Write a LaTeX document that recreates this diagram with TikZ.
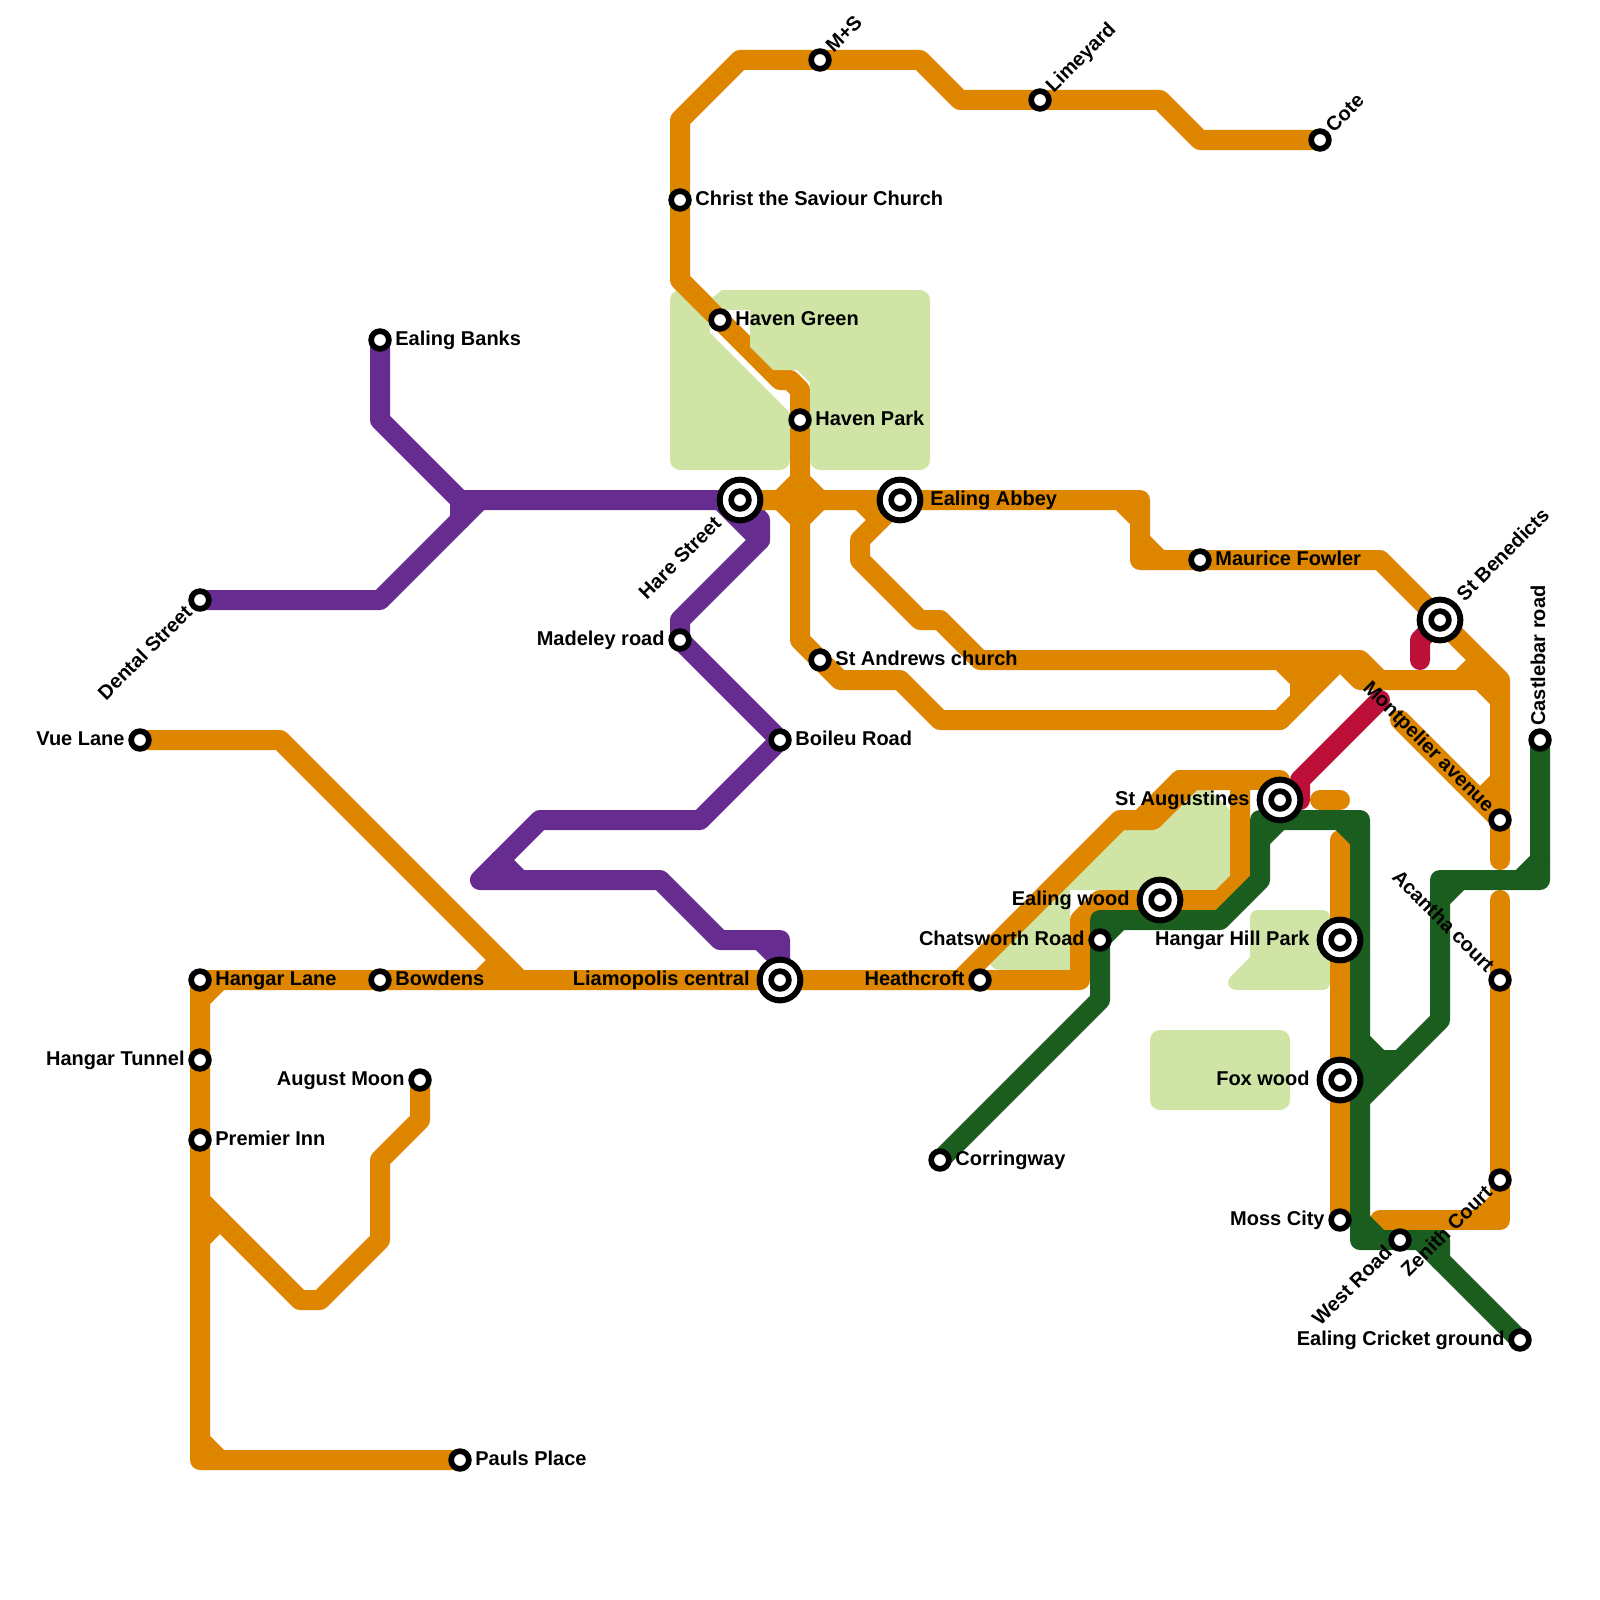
\documentclass[tikz,border=0pt]{standalone}
\usepackage{fontspec}
\setmainfont{Liberation Sans}
\definecolor{lorange}{HTML}{DF8600}
\definecolor{lgreen}{HTML}{1A5D1E}
\definecolor{lpurple}{HTML}{662C90}
\definecolor{lred}{HTML}{BD1038}
\definecolor{lpark}{HTML}{D0E5A5}
\tikzset{
  base line/.style={line width=10pt,line cap=round,line join=round},
  oline/.style={base line,draw=lorange},
  gline/.style={base line,draw=lgreen},
  pline/.style={base line,draw=lpurple},
  rline/.style={base line,draw=lred},
  park/.style={fill=lpark},
  stn/.style={circle,draw=black,fill=white,line width=2.85pt,inner sep=0pt,outer sep=0pt,minimum size=8.85pt},
  ring/.style={circle,draw=black,fill=white,line width=3pt,inner sep=0pt,outer sep=0pt,minimum size=20.35pt},
  lbl/.style={inner sep=0pt,text height=5pt,text depth=0pt,font=\fontsize{10pt}{12pt}\selectfont\bfseries,text=black},
  lr/.style={lbl,xshift=7.5pt,anchor=west},
  ll/.style={lbl,xshift=-7.5pt,anchor=east},
  ir/.style={lbl,xshift=15pt,anchor=west},
  il/.style={lbl,xshift=-15pt,anchor=east},
  ur/.style={lbl,xshift=5pt,yshift=5pt,rotate=45,anchor=west},
  iur/.style={lbl,xshift=10.5pt,yshift=10.5pt,rotate=45,anchor=west},
  dl/.style={lbl,xshift=-5pt,yshift=-5pt,rotate=45,anchor=east},
  idl/.style={lbl,xshift=-10.5pt,yshift=-10.5pt,rotate=45,anchor=east},
  ul/.style={lbl,xshift=-5pt,yshift=5pt,rotate=-45,anchor=east},
  upl/.style={lbl,yshift=7pt,rotate=90,anchor=west}
}
\begin{document}
\begin{tikzpicture}[x=0.5pt,y=-0.5pt]
\useasboundingbox (0,0) rectangle (1600,1600);
% station positions
\coordinate (EB) at (380,340);
\coordinate (DS) at (200,600);
\coordinate (VL) at (140,740);
\coordinate (HL) at (200,980);
\coordinate (BW) at (380,980);
\coordinate (HT) at (200,1060);
\coordinate (PI) at (200,1140);
\coordinate (AM) at (420,1080);
\coordinate (PP) at (460,1460);
\coordinate (MR) at (680,640);
\coordinate (BR) at (780,740);
\coordinate (HS) at (740,500);
\coordinate (CS) at (680,200);
\coordinate (HG) at (720,320);
\coordinate (HP) at (800,420);
\coordinate (MS) at (820,60);
\coordinate (LY) at (1040,100);
\coordinate (CT) at (1320,140);
\coordinate (EA) at (900,500);
\coordinate (SA) at (820,660);
\coordinate (MF) at (1200,560);
\coordinate (SB) at (1440,620);
\coordinate (CR) at (1540,740);
\coordinate (MA) at (1500,820);
\coordinate (AC) at (1500,980);
\coordinate (ZC) at (1500,1180);
\coordinate (CG) at (1520,1340);
\coordinate (WR) at (1400,1240);
\coordinate (MC) at (1340,1220);
\coordinate (FW) at (1340,1080);
\coordinate (HH) at (1340,940);
\coordinate (AU) at (1280,800);
\coordinate (EW) at (1160,900);
\coordinate (CH) at (1100,940);
\coordinate (HC) at (980,980);
\coordinate (CW) at (940,1160);
\coordinate (LC) at (780,980);
% parks below the lines
\fill[park,rounded corners=5pt] (670,470) -- (670,290) -- (690,290) [sharp corners] -- (710,320) -- (710,333) -- (790,413) [rounded corners=5pt] -- (790,470) -- cycle;
\fill[park] (1113,830) -- (992,951) .. controls (985,958) and (990,970) .. (1000,970) -- (1070,970) -- (1070,890) -- (1222,890) .. controls (1227,890) and (1230,887) .. (1230,882) -- (1230,810) -- (1210,790) -- (1197,790) -- (1157,830) -- cycle;
\fill[park] (1258,910) -- (1322,910) .. controls (1327,910) and (1330,913) .. (1330,918) -- (1330,982) .. controls (1330,987) and (1327,990) .. (1322,990) -- (1238,990) .. controls (1228,990) and (1225,982) .. (1232,975) -- (1250,957) -- (1250,918) .. controls (1250,913) and (1253,910) .. (1258,910) -- cycle;
\fill[park,rounded corners=5pt] (1150,1030) rectangle (1290,1110);
% purple
\draw[pline] (EB) -- (380,420) -- (460,500) -- (HS) -- (760,520) -- (760,540) -- (680,620) -- (MR) -- (BR) -- (700,820) -- (540,820) -- (480,880) -- (660,880) -- (720,940) -- (780,940) -- (LC);
\draw[pline] (DS) -- (380,600) -- (480,500);
\draw[pline] (460,500) -- (460,520);
\draw[pline] (720,500) -- (760,540);
\draw[pline] (500,860) -- (520,880);
\draw[pline] (760,940) -- (780,960);
% orange
\draw[oline] (VL) -- (280,740) -- (520,980);
\draw[oline] (500,960) -- (480,980);
\draw[oline] (PP) -- (200,1460) -- (HL) -- (BW) -- (LC) -- (HC) -- (1080,980) -- (1080,920) -- (1100,900) -- (EW) -- (1220,900) -- (1240,880) -- (1240,780) -- (1180,780) -- (1140,820) -- (1120,820) -- (960,980);
\draw[oline] (1140,820) -- (1153,820) -- (1193,780) -- (1180,780);
\draw[oline] (1240,780) -- (1280,780) -- (AU);
\draw[oline] (200,1000) -- (220,980);
\draw[oline] (200,1440) -- (220,1460);
\draw[oline] (200,1200) -- (300,1300) -- (320,1300) -- (380,1240) -- (380,1160) -- (420,1120) -- (AM);
\draw[oline] (200,1240) -- (220,1220);
\draw[oline] (CT) -- (1200,140) -- (1160,100) -- (LY) -- (960,100) -- (920,60) -- (MS) -- (740,60) -- (680,120) -- (CS) -- (680,280) -- (HG) -- (780,380) -- (790,380) -- (800,390) -- (HP) -- (800,640) -- (SA) -- (840,680) -- (900,680) -- (940,720) -- (1280,720) -- (1340,660);
\draw[oline] (HS) -- (EA) -- (1140,500) -- (1140,560) -- (MF) -- (1380,560) -- (SB) -- (1500,680) -- (MA) -- (1500,860);
\draw[oline,fill=lorange] (800,480) -- (820,500) -- (800,520) -- (780,500) -- cycle;
\draw[oline] (860,500) -- (880,520);
\draw[oline] (EA) -- (860,540) -- (860,560) -- (920,620) -- (940,620) -- (980,660) -- (1360,660) -- (1380,680);
\draw[oline] (1120,500) -- (1140,520);
\draw[oline] (1140,540) -- (1160,560);
\draw[oline] (1280,660) -- (1300,680) -- (1300,700) -- (1280,720);
\draw[oline] (1300,680) -- (1320,670);
\draw[oline] (1340,660) -- (1360,680) -- (1480,680) -- (1500,700);
\draw[oline] (1460,680) -- (1480,660);
\draw[oline] (1400,720) -- (MA);
\draw[oline] (1480,800) -- (1500,780);
\draw[oline] (1320,800) -- (1340,800);
\draw[oline] (1340,840) -- (MC);
\draw[oline] (1380,1220) -- (1500,1220) -- (AC) -- (1500,900);
\draw[oline] (1480,1220) -- (1500,1200);
% park drawn over the orange line at Haven
\fill[park,rounded corners=5pt] (712,298) [sharp corners] -- (722,290) [rounded corners=5pt] -- (930,290) -- (930,470) -- (810,470) [sharp corners] -- (810,383) -- (797,370) -- (773,370) -- (750,347) -- (750,310) -- (724,310) -- cycle;
% green
\draw[gline] (CW) -- (1100,1000) -- (1100,920) -- (1220,920) -- (1260,880) -- (1260,820) -- (1360,820) -- (1360,1240) -- (1440,1240) -- (1440,1260);
\draw[gline] (1100,940) -- (1120,920);
\draw[gline] (1260,840) -- (1280,820);
\draw[gline] (1340,820) -- (1360,840);
\draw[gline] (1420,1240) -- (CG);
\draw[gline] (1360,1220) -- (1380,1240);
\draw[gline] (CR) -- (1540,880) -- (1440,880) -- (1440,1020) -- (1360,1100);
\draw[gline] (1520,880) -- (1540,860);
\draw[gline] (1440,900) -- (1460,880);
\draw[gline] (1360,1040) -- (1380,1060) -- (1400,1060);
\draw[gline] (1360,1060) -- (1390,1060);
\draw[gline] (1360,1060) -- (1380,1070);
% red
\draw[rline] (1380,700) -- (1300,780) -- (1300,800);
\draw[rline] (1420,660) -- (1420,640) -- (SB);
% stations
\node[stn] (sEB) at (EB) {};
\node[stn] (sDS) at (DS) {};
\node[stn] (sVL) at (VL) {};
\node[stn] (sHL) at (HL) {};
\node[stn] (sBW) at (BW) {};
\node[stn] (sHT) at (HT) {};
\node[stn] (sPI) at (PI) {};
\node[stn] (sAM) at (AM) {};
\node[stn] (sPP) at (PP) {};
\node[stn] (sMR) at (MR) {};
\node[stn] (sBR) at (BR) {};
\node[stn] (sCS) at (CS) {};
\node[stn] (sHG) at (HG) {};
\node[stn] (sHP) at (HP) {};
\node[stn] (sMS) at (MS) {};
\node[stn] (sLY) at (LY) {};
\node[stn] (sCT) at (CT) {};
\node[stn] (sSA) at (SA) {};
\node[stn] (sMF) at (MF) {};
\node[stn] (sCR) at (CR) {};
\node[stn] (sMA) at (MA) {};
\node[stn] (sAC) at (AC) {};
\node[stn] (sZC) at (ZC) {};
\node[stn] (sCG) at (CG) {};
\node[stn] (sWR) at (WR) {};
\node[stn] (sMC) at (MC) {};
\node[stn] (sCH) at (CH) {};
\node[stn] (sHC) at (HC) {};
\node[stn] (sCW) at (CW) {};
% interchanges
\node[ring] (rHS) at (HS) {}; \node[stn] (iHS) at (HS) {};
\node[ring] (rEA) at (EA) {}; \node[stn] (iEA) at (EA) {};
\node[ring] (rSB) at (SB) {}; \node[stn] (iSB) at (SB) {};
\node[ring] (rAU) at (AU) {}; \node[stn] (iAU) at (AU) {};
\node[ring] (rEW) at (EW) {}; \node[stn] (iEW) at (EW) {};
\node[ring] (rHH) at (HH) {}; \node[stn] (iHH) at (HH) {};
\node[ring] (rFW) at (FW) {}; \node[stn] (iFW) at (FW) {};
\node[ring] (rLC) at (LC) {}; \node[stn] (iLC) at (LC) {};
% labels
\node[lr] (tEB) at (EB) {Ealing Banks};
\node[dl] (tDS) at (DS) {Dental Street};
\node[ll] (tVL) at (VL) {Vue Lane};
\node[lr] (tHL) at (HL) {Hangar Lane};
\node[lr] (tBW) at (BW) {Bowdens};
\node[ll] (tHT) at (HT) {Hangar Tunnel};
\node[lr] (tPI) at (PI) {Premier Inn};
\node[ll] (tAM) at (AM) {August Moon};
\node[lr] (tPP) at (PP) {Pauls Place};
\node[ll] (tMR) at (MR) {Madeley road};
\node[lr] (tBR) at (BR) {Boileu Road};
\node[idl] (tHS) at (HS) {Hare Street};
\node[lr] (tCS) at (CS) {Christ the Saviour Church};
\node[lr] (tHG) at (HG) {Haven Green};
\node[lr] (tHP) at (HP) {Haven Park};
\node[ur] (tMS) at (MS) {M+S};
\node[ur] (tLY) at (LY) {Limeyard};
\node[ur] (tCT) at (CT) {Cote};
\node[ir] (tEA) at (EA) {Ealing Abbey};
\node[lr] (tSA) at (SA) {St Andrews church};
\node[lr] (tMF) at (MF) {Maurice Fowler};
\node[iur] (tSB) at (SB) {St Benedicts};
\node[upl] (tCR) at (CR) {Castlebar road};
\node[ul] (tMA) at (MA) {Montpelier avenue};
\node[ul] (tAC) at (AC) {Acantha court};
\node[dl] (tZC) at (ZC) {Zenith Court};
\node[ll] (tCG) at (CG) {Ealing Cricket ground};
\node[dl] (tWR) at (WR) {West Road};
\node[ll] (tMC) at (MC) {Moss City};
\node[il] (tFW) at (FW) {Fox wood};
\node[il] (tHH) at (HH) {Hangar Hill Park};
\node[il] (tAU) at (AU) {St Augustines};
\node[il] (tEW) at (EW) {Ealing wood};
\node[ll] (tCH) at (CH) {Chatsworth Road};
\node[ll] (tHC) at (HC) {Heathcroft};
\node[lr] (tCW) at (CW) {Corringway};
\node[il] (tLC) at (LC) {Liamopolis central};
\end{tikzpicture}
\end{document}
